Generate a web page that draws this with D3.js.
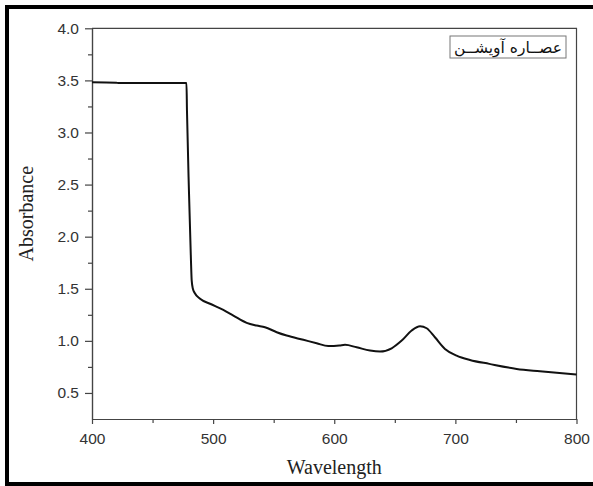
<!DOCTYPE html>
<html>
<head>
<meta charset="utf-8">
<script src="https://cdn.jsdelivr.net/npm/d3@7"></script>
<style>
  body { margin: 0; background: #fff; }
  .axis path, .axis line { stroke: #444; stroke-width: 1.2; }
  .axis text { font-family: "Liberation Sans", Arial, sans-serif; font-size: 15.5px; fill: #333; }
  .title { font-family: "Liberation Serif", "Times New Roman", serif; font-size: 20px; fill: #222; }
</style>
</head>
<body>
<div id="chart"></div>
<script>
// absorbance spectrum
const wavelength = [400, 420, 422, 478, 478.4, 480.1, 481.7, 482.3, 483.3, 484.8, 489.2, 497.4, 508.4, 516.7, 527.7, 535.9, 542.8,
  552.5, 560.7, 574.5, 585.5, 595.1, 604.2, 608.9, 618.5, 629.5, 637.8, 647.4, 655.7, 663.9, 670.8, 676.3, 683.1,
  691.4, 701, 712, 728, 750.6, 769.8, 800];
const absorbance = [3.481, 3.478, 3.474, 3.474, 3.214, 2.413, 1.772, 1.58, 1.5, 1.46, 1.404, 1.356, 1.298, 1.243, 1.173, 1.147, 1.131,
  1.083, 1.051, 1.01, 0.977, 0.95, 0.955, 0.962, 0.938, 0.907, 0.897, 0.929, 1.003, 1.099, 1.14, 1.121, 1.035,
  0.923, 0.859, 0.817, 0.779, 0.731, 0.708, 0.676];
const xTicks = [400, 500, 600, 700, 800];
const xMinor = [450, 550, 650, 750];
const yTicks = [0.5, 1.0, 1.5, 2.0, 2.5, 3.0, 3.5, 4.0];
const yMinor = [0.75, 1.25, 1.75, 2.25, 2.75, 3.25, 3.75];
const legendLabel = 'عصــاره آویشــن';

const W = 593, H = 486;
const M = { l: 92, r: 576.5, t: 28.3, b: 419 };
const svg = d3.select('#chart').append('svg').attr('width', W).attr('height', H);

// outer frame of the figure
svg.append('path').attr('d', `M${W + 5},7 H7 V484 H${W + 5}`)
  .attr('fill', 'none').attr('stroke', '#000').attr('stroke-width', 4);

const x = d3.scaleLinear().domain([400, 800]).range([M.l, M.r]);
const y = d3.scaleLinear().domain([0.25, 4.0]).range([M.b, M.t]);

// box top / right
svg.append('path').attr('d', `M${M.l},${M.t} H${M.r} V${M.b}`)
  .attr('fill', 'none').attr('stroke', '#444').attr('stroke-width', 1.2);

svg.append('g').attr('class', 'axis').attr('transform', `translate(0,${M.b})`)
  .call(d3.axisBottom(x).tickValues(xMinor).tickSize(4).tickFormat('').tickSizeOuter(0));
svg.append('g').attr('class', 'axis').attr('transform', `translate(0,${M.b})`)
  .call(d3.axisBottom(x).tickValues(xTicks).tickSize(5).tickPadding(9).tickSizeOuter(0).tickFormat(d3.format('d')));

svg.append('g').attr('class', 'axis').attr('transform', `translate(${M.l},0)`)
  .call(d3.axisLeft(y).tickValues(yMinor).tickSize(4).tickFormat('').tickSizeOuter(0));
svg.append('g').attr('class', 'axis').attr('transform', `translate(${M.l},0)`)
  .call(d3.axisLeft(y).tickValues(yTicks).tickSize(7).tickPadding(6).tickSizeOuter(0).tickFormat(d3.format('.1f')));

const pts = wavelength.map((w, i) => [w, absorbance[i]]);
const line = d3.line().x(d => x(d[0])).y(d => y(d[1])).curve(d3.curveMonotoneX);
svg.append('path').datum(pts).attr('d', line)
  .attr('fill', 'none').attr('stroke', '#111').attr('stroke-width', 2).attr('stroke-linejoin', 'round');

// axis titles
svg.append('text').attr('class', 'title').attr('x', (M.l + M.r) / 2).attr('y', 474)
  .attr('text-anchor', 'middle').text('Wavelength');
svg.append('text').attr('class', 'title').attr('transform', `translate(33,${(M.t + M.b) / 2 - 10}) rotate(-90)`)
  .attr('text-anchor', 'middle').text('Absorbance');

// legend
svg.append('rect').attr('x', 450).attr('y', 36).attr('width', 116).attr('height', 22)
  .attr('fill', '#fff').attr('stroke', '#777').attr('stroke-width', 1);
svg.append('text').attr('x', 508).attr('y', 53).attr('text-anchor', 'middle')
  .attr('direction', 'rtl')
  .style('font-family', '"DejaVu Sans", sans-serif').style('font-size', '15.5px').style('fill', '#111')
  .text(legendLabel);
</script>
</body>
</html>
